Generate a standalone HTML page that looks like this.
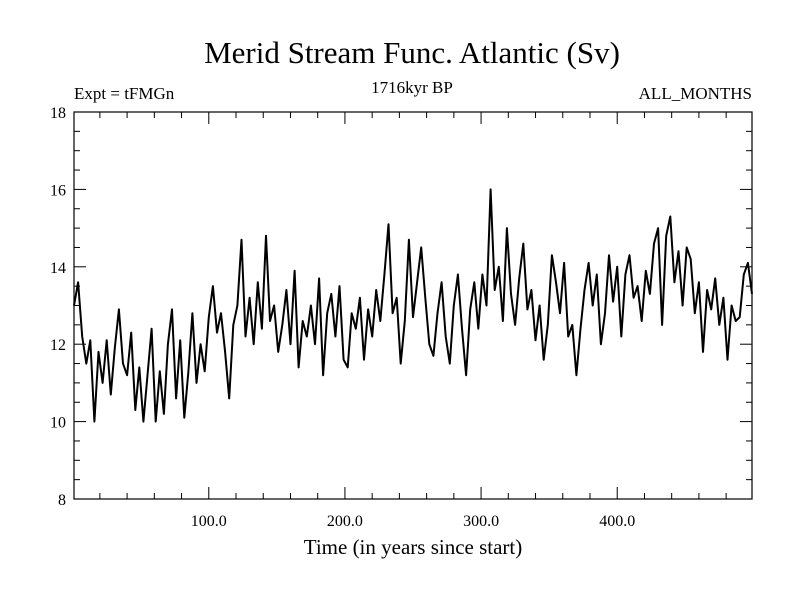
<!DOCTYPE html>
<html><head><meta charset="utf-8"><style>
body{margin:0;background:#fff;}
svg text{font-family:"Liberation Serif",serif;fill:#000;}
</style></head><body>
<svg id="chart" width="800" height="600" viewBox="0 0 800 600">
<rect width="800" height="600" fill="#fff"/>
<text x="412" y="63" font-size="31" text-anchor="middle">Merid Stream Func. Atlantic (Sv)</text>
<text x="74" y="99" font-size="17">Expt = tFMGn</text>
<text x="412" y="93" font-size="17" text-anchor="middle">1716kyr BP</text>
<text x="752" y="99" font-size="17" text-anchor="end">ALL_MONTHS</text>
<g id="axes"></g>
<path id="series" fill="none" stroke="#000" stroke-width="2" stroke-linejoin="round"/>
<rect x="74" y="112" width="678" height="387" fill="none" stroke="#000" stroke-width="1.2"/>
<text x="413" y="554" font-size="21" text-anchor="middle">Time (in years since start)</text>
</svg>
<script>
const yearStart = 1;
const yearStep = 3;
const values = [13.0,13.6,12.2,11.5,12.1,10.0,11.8,11.0,12.1,10.7,11.9,12.9,11.5,11.2,12.3,10.3,11.4,10.0,11.2,12.4,10.0,11.3,10.2,12.0,12.9,10.6,12.1,10.1,11.3,12.8,11.0,12.0,11.3,12.7,
13.5,12.3,12.8,11.8,10.6,12.5,13.0,14.7,12.2,13.2,12.0,13.6,12.4,14.8,12.6,13.0,11.8,12.5,13.4,12.0,13.9,11.4,12.6,12.2,13.0,12.0,13.7,11.2,12.8,13.3,12.2,13.5,11.6,
11.4,12.8,12.4,13.2,11.6,12.9,12.2,13.4,12.6,13.8,15.1,12.8,13.2,11.5,12.6,14.7,12.7,13.6,14.5,13.2,12.0,11.7,12.8,13.6,12.2,11.5,13.0,13.8,12.4,11.2,12.9,13.6,12.4,
13.8,13.0,16.0,13.4,14.0,12.6,15.0,13.3,12.5,13.7,14.6,12.9,13.4,12.1,13.0,11.6,12.5,14.3,13.6,12.8,14.1,12.2,12.5,11.2,12.4,13.4,14.1,13.0,13.8,12.0,12.8,14.3,13.1,14.0,
12.2,13.8,14.3,13.2,13.5,12.6,13.9,13.3,14.6,15.0,12.5,14.8,15.3,13.6,14.4,13.0,14.5,14.2,12.8,13.6,11.8,13.4,12.9,13.7,12.5,13.2,11.6,13.0,12.6,12.7,13.8,14.1,13.3];
const xTicks = [100,200,300,400];
const xTickLabels = ["100.0","200.0","300.0","400.0"];
const yTicks = [8,10,12,14,16,18];
const yTickLabels = ["8","10","12","14","16","18"];

const X0=74,X1=752,Y0=499,Y1=112, xMin=1,xMax=499,yMin=8,yMax=18;
const sx=v=>X0+(v-xMin)/(xMax-xMin)*(X1-X0);
const sy=v=>Y0-(v-yMin)/(yMax-yMin)*(Y0-Y1);
const NS="http://www.w3.org/2000/svg";
const ax=document.getElementById('axes');
function line(x1,y1,x2,y2,name){const l=document.createElementNS(NS,'line');
l.setAttribute('x1',x1);l.setAttribute('y1',y1);l.setAttribute('x2',x2);l.setAttribute('y2',y2);
l.setAttribute('stroke','#000');l.setAttribute('stroke-width','1');


ax.appendChild(l);}
function text(x,y,s,anchor,size,name){const t=document.createElementNS(NS,'text');
t.setAttribute('x',x);t.setAttribute('y',y);t.setAttribute('text-anchor',anchor);t.setAttribute('font-size',size);t.textContent=s;


ax.appendChild(t);}
for(let v=20;v<500;v+=20){const x=sx(v);const major=v%100===0;
line(x,Y0,x,Y0-(major?12:6),'x-tick');line(x,Y1,x,Y1+(major?12:6),'x-tick-top');}
xTicks.forEach((v,i)=>text(sx(v),Y0+27,xTickLabels[i],'middle',16,'x-tick-label'));
for(let v=8.5;v<18;v+=0.5){const y=sy(v);const major=v%2===0;
line(X0,y,X0+(major?12:6),y,'y-tick');line(X1,y,X1-(major?12:6),y,'y-tick-right');}
yTicks.forEach((v,i)=>text(X0-8,sy(v)+6,yTickLabels[i],'end',16,'y-tick-label'));
let d='';values.forEach((v,i)=>{d+=(i?'L':'M')+sx(yearStart+i*yearStep).toFixed(1)+','+sy(v).toFixed(1);});
document.getElementById('series').setAttribute('d',d);
</script>
</body></html>
